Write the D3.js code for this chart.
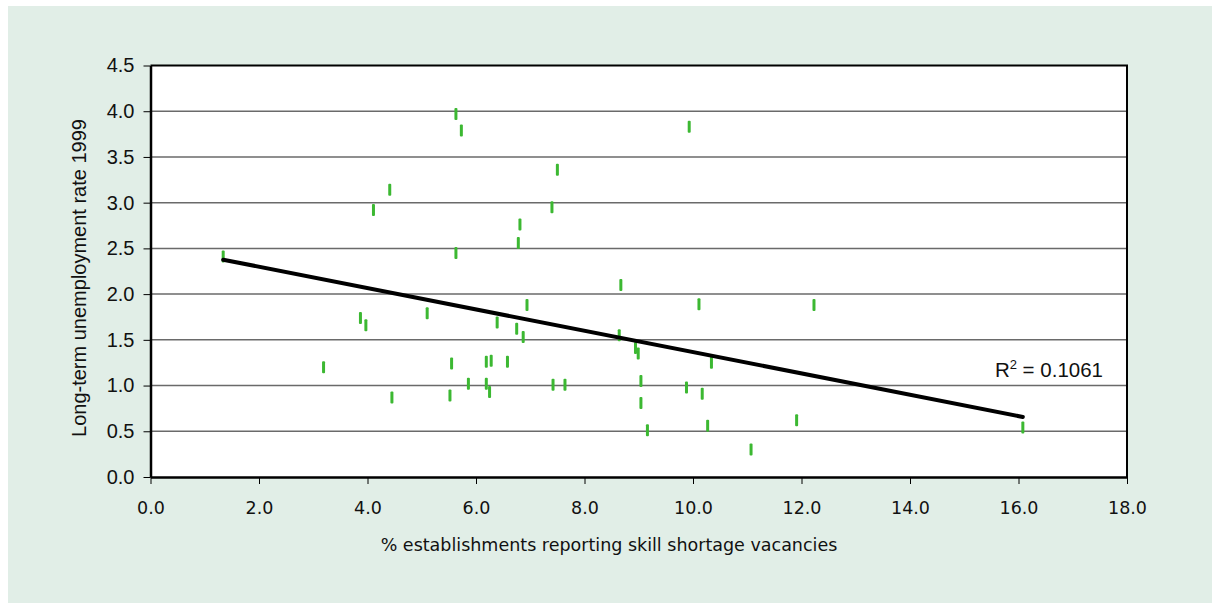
<!DOCTYPE html>
<html>
<head>
<meta charset="utf-8">
<script src="https://cdn.jsdelivr.net/npm/d3@7"></script>
<style>
  body { margin: 0; background: #fff; }
  .x.axis text { font-family: "DejaVu Sans", Verdana, sans-serif; font-size: 17.5px; fill: #111; }
  .y.axis text { font-family: "Liberation Sans", Arial, sans-serif; font-size: 20px; fill: #111; }
  .axis path, .axis line { stroke: #000; }
</style>
</head>
<body>
<script>
// skill shortage vacancies (%) vs long-term unemployment rate 1999
var shortage = [1.34, 3.19, 3.87, 3.97, 4.11, 4.41, 4.45, 5.10, 5.52, 5.55,
                5.63, 5.63, 5.73, 5.86, 6.19, 6.19, 6.25, 6.28, 6.39, 6.58,
                6.75, 6.78, 6.81, 6.87, 6.94, 7.40, 7.42, 7.50, 7.64, 8.64,
                8.67, 8.94, 8.99, 9.04, 9.04, 9.16, 9.88, 9.93, 10.11, 10.17,
                10.27, 10.34, 11.07, 11.91, 12.23, 16.08];
var unemployment = [2.41, 1.20, 1.74, 1.66, 2.92, 3.14, 0.87, 1.79, 0.89, 1.24,
                    3.97, 2.45, 3.79, 1.02, 1.26, 1.02, 0.93, 1.27, 1.69, 1.26,
                    1.62, 2.56, 2.76, 1.53, 1.88, 2.95, 1.01, 3.36, 1.01, 1.55,
                    2.10, 1.41, 1.35, 1.05, 0.81, 0.51, 0.98, 3.83, 1.89, 0.91,
                    0.56, 1.25, 0.30, 0.62, 1.88, 0.54];
var xTicks = [0, 2, 4, 6, 8, 10, 12, 14, 16, 18];
var yTicks = [0, 0.5, 1, 1.5, 2, 2.5, 3, 3.5, 4, 4.5];
var rSquared = "0.1061";

var W = 1212, H = 603;
var plotL = 150.5, plotR = 1127, plotT = 65.5, plotB = 477;

var data = shortage.map(function (s, i) { return { x: s, y: unemployment[i] }; });

var x = d3.scaleLinear().domain([0, 18]).range([plotL, plotR]);
var y = d3.scaleLinear().domain([0, 4.5]).range([plotB, plotT]);

var svg = d3.select("body").append("svg")
    .attr("width", W)
    .attr("height", H);

// outer background
svg.append("rect")
    .attr("x", 8).attr("y", 6)
    .attr("width", W - 8).attr("height", H - 6)
    .attr("fill", "#e1eee7");

// plot area
svg.append("rect")
    .attr("x", plotL).attr("y", plotT)
    .attr("width", plotR - plotL).attr("height", plotB - plotT)
    .attr("fill", "#fff");

// gridlines
svg.append("g")
    .selectAll("line")
    .data(yTicks.filter(function (d) { return d > 0 && d < 4.5; }))
    .enter().append("line")
    .attr("x1", plotL).attr("x2", plotR)
    .attr("y1", function (d) { return y(d); })
    .attr("y2", function (d) { return y(d); })
    .attr("stroke", "#6a6a6a")
    .attr("stroke-width", 1.5);

// top and right border
svg.append("path")
    .attr("d", "M" + plotL + "," + plotT + "H" + plotR + "V" + plotB)
    .attr("fill", "none")
    .attr("stroke", "#000")
    .attr("stroke-width", 2);

var xAxis = d3.axisBottom(x)
    .tickValues(xTicks)
    .tickFormat(d3.format(".1f"))
    .tickSize(7)
    .tickSizeOuter(0)
    .tickPadding(18);

var yAxis = d3.axisLeft(y)
    .tickValues(yTicks)
    .tickFormat(d3.format(".1f"))
    .tickSize(7)
    .tickSizeOuter(0)
    .tickPadding(9);

svg.append("g")
    .attr("class", "x axis")
    .attr("transform", "translate(0," + plotB + ")")
    .call(xAxis)
    .call(function (g) { g.select(".domain").attr("stroke-width", 2.5); });

svg.append("g")
    .attr("class", "y axis")
    .attr("transform", "translate(" + plotL + ",0)")
    .call(yAxis)
    .call(function (g) { g.select(".domain").attr("stroke-width", 2.5); });

// points (dash markers)
svg.append("g")
    .selectAll("rect")
    .data(data)
    .enter().append("rect")
    .attr("x", function (d) { return x(d.x) - 1.5; })
    .attr("y", function (d) { return y(d.y) - 6; })
    .attr("width", 3)
    .attr("height", 12)
    .attr("rx", 1)
    .attr("fill", "#3cb832");

// linear trend line
var mx = d3.mean(data, function (d) { return d.x; });
var my = d3.mean(data, function (d) { return d.y; });
var slope = d3.sum(data, function (d) { return (d.x - mx) * (d.y - my); }) /
            d3.sum(data, function (d) { return (d.x - mx) * (d.x - mx); });
var icpt = my - slope * mx;
var ext = d3.extent(data, function (d) { return d.x; });

svg.append("line")
    .attr("x1", x(ext[0])).attr("y1", y(icpt + slope * ext[0]))
    .attr("x2", x(ext[1])).attr("y2", y(icpt + slope * ext[1]))
    .attr("stroke", "#000")
    .attr("stroke-width", 4)
    .attr("stroke-linecap", "round");

// R squared label
var rl = svg.append("text")
    .attr("x", 1103).attr("y", 377)
    .attr("text-anchor", "end")
    .attr("font-family", "Liberation Sans, Arial, sans-serif")
    .attr("font-size", 20.5)
    .attr("fill", "#111");
rl.append("tspan").text("R");
rl.append("tspan").attr("dy", -8).attr("font-size", 13).text("2");
rl.append("tspan").attr("dy", 8).text(" = " + rSquared);

// axis titles
svg.append("text")
    .attr("x", 609).attr("y", 551)
    .attr("text-anchor", "middle")
    .attr("font-family", "DejaVu Sans, Verdana, sans-serif")
    .attr("font-size", 17.5)
    .attr("fill", "#111")
    .text("% establishments reporting skill shortage vacancies");

svg.append("text")
    .attr("transform", "translate(86,278) rotate(-90)")
    .attr("text-anchor", "middle")
    .attr("font-family", "Liberation Sans, Arial, sans-serif")
    .attr("font-size", 20)
    .attr("fill", "#111")
    .text("Long-term unemployment rate 1999");
</script>
</body>
</html>
